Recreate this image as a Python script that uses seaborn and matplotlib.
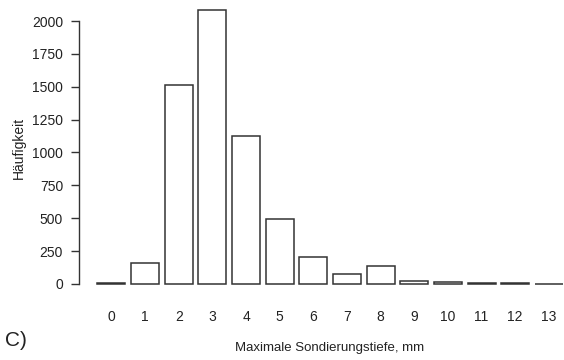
import matplotlib
matplotlib.use("Agg")
import matplotlib.pyplot as plt
import seaborn as sns
import pandas as pd

# Data
categories = ["0", "1", "2", "3", "4", "5", "6", "7", "8", "9", "10", "11", "12", "13"]
counts = [5, 157, 1517, 2085, 1125, 492, 205, 75, 139, 25, 12, 7, 7, 1]
y_ticks = [0, 250, 500, 750, 1000, 1250, 1500, 1750, 2000]

x_label = "Maximale Sondierungstiefe, mm"
y_label = "Häufigkeit"
panel_label = "C)"

sns.set_style("white")
plt.rcParams["font.family"] = ["Liberation Sans", "DejaVu Sans"]

df = pd.DataFrame({"tiefe": categories, "n": counts})

W, H = 564, 360
fig = plt.figure(figsize=(W / 100, H / 100), dpi=100)
ax = fig.add_axes([79 / W, (H - 295) / H, 485 / W, 290 / H])

sns.barplot(data=df, x="tiefe", y="n", order=categories, color="white",
            edgecolor="#333333", linewidth=1.1, width=0.833, ax=ax,
            saturation=1)

ax.set_xlim(-0.963, 13.45)
ax.set_ylim(-83.7, 2121.7)
ax.set_yticks(y_ticks)
ax.set_yticklabels([str(t) for t in y_ticks])
ax.set_xlabel("")
ax.set_ylabel("")

for s in ["top", "right", "bottom"]:
    ax.spines[s].set_visible(False)
ax.spines["left"].set_bounds(0, 2000)
ax.spines["left"].set_color("#333333")
ax.spines["left"].set_linewidth(1.0)

ax.tick_params(axis="y", direction="out", length=6, width=1.0, color="#333333",
               pad=5.5, labelsize=10, labelcolor="#222222", left=True)
ax.tick_params(axis="x", length=0, pad=11, labelsize=10, labelcolor="#222222")

fig.text(330 / W, 1 - 348 / H, x_label, ha="center", va="center",
         fontsize=9.5, color="#222222")
fig.text(19 / W, 1 - 148 / H, y_label, ha="center", va="center",
         rotation=90, fontsize=10, color="#222222")
fig.text(5 / W, 1 - 341 / H, panel_label, ha="left", va="center",
         fontsize=15, color="#222222")

fig.savefig("out.png", dpi=100, facecolor="white")
